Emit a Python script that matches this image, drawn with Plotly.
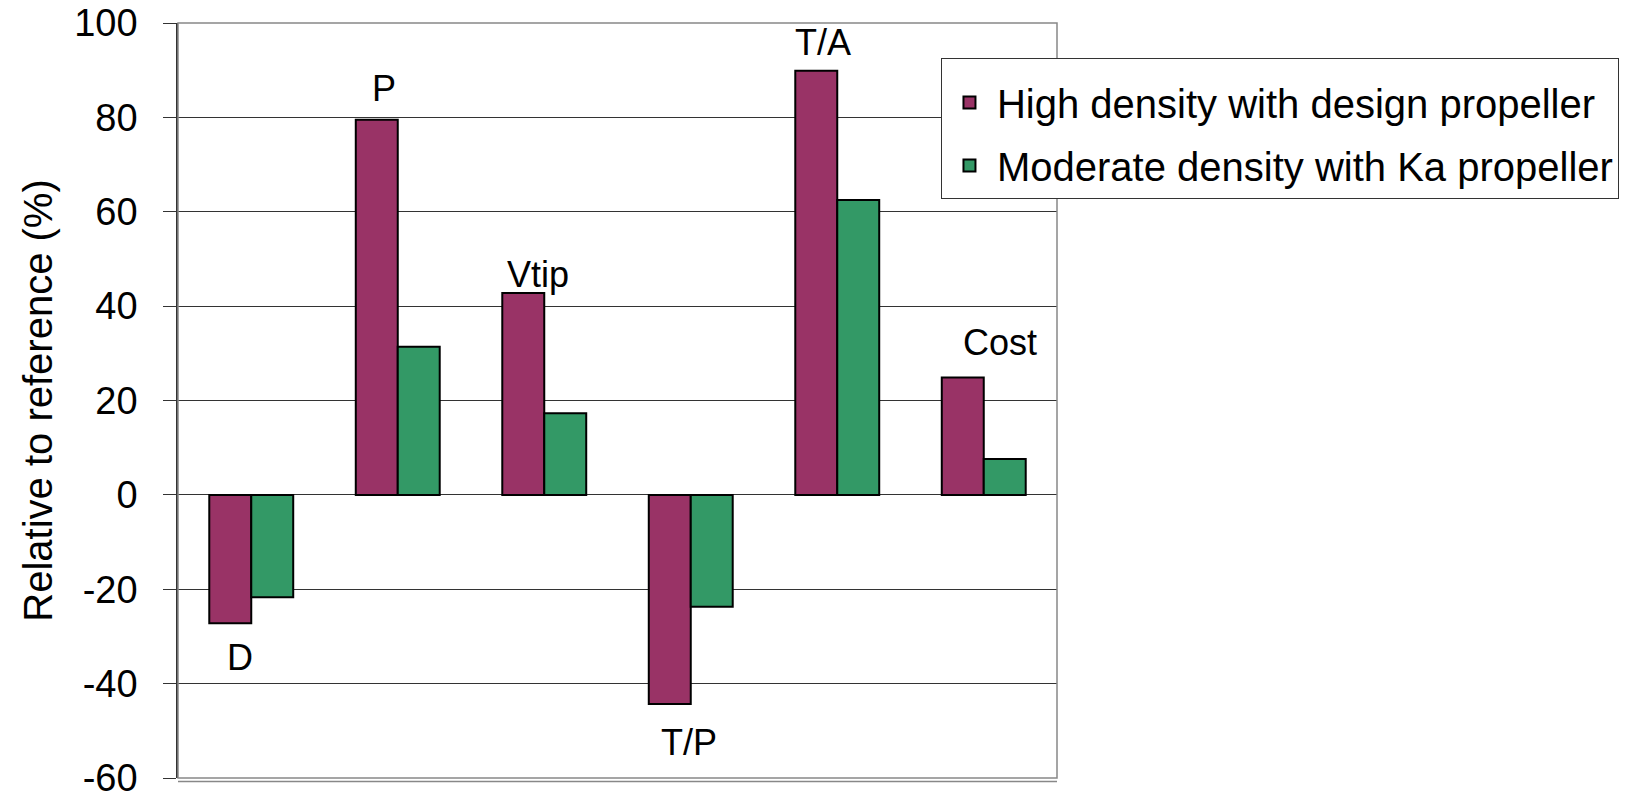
import plotly.graph_objects as go

# data
categories = ["D", "P", "Vtip", "T/P", "T/A", "Cost"]
high_density = [-27.2, 79.5, 42.8, -44.3, 89.9, 24.9]
moderate_density = [-21.7, 31.4, 17.3, -23.7, 62.5, 7.6]
series_names = ["High density with design propeller", "Moderate density with Ka propeller"]
y_ticks = [-60, -40, -20, 0, 20, 40, 60, 80, 100]

# label offsets (px) relative to the high-density bar end
label_dx = [-11, -14, -6, -2, -14, 16]
label_dy = [-34, 31, 18, -39, 28, 35]

fig = go.Figure()
fig.add_trace(go.Bar(x=categories, y=high_density, name=series_names[0],
                     marker=dict(color="#993366", line=dict(color="black", width=2)),
                     legendgroup="a"))
fig.add_trace(go.Bar(x=categories, y=moderate_density, name=series_names[1],
                     marker=dict(color="#339966", line=dict(color="black", width=2)),
                     legendgroup="b"))

for cat, val, dx, dy in zip(categories, high_density, label_dx, label_dy):
    fig.add_annotation(x=cat, y=val, text=cat, showarrow=False,
                       xshift=dx, yshift=dy, yanchor="middle",
                       font=dict(size=36, color="black"))

# plot frame (grey) and double bottom line
fig.add_shape(type="rect", xref="paper", yref="paper", x0=0, x1=1, y0=0, y1=1,
              line=dict(color="#888888", width=1.5), layer="above")
fig.add_shape(type="line", xref="paper", yref="paper", x0=0, x1=1, y0=-0.0045, y1=-0.0045,
              line=dict(color="#888888", width=1.5))

# the page body adds an 8px offset, margins compensate for it
fig.update_layout(
    width=1629, height=796,
    margin=dict(l=170, r=580, t=15, b=26),
    paper_bgcolor="white", plot_bgcolor="white",
    font=dict(family="Liberation Sans, Arial, sans-serif", color="black"),
    barmode="group", bargap=0.427, bargroupgap=0,
    showlegend=True,
    legend=dict(x=0.868, y=0.953, xanchor="left", yanchor="top",
                bgcolor="white", bordercolor="#333333", borderwidth=1,
                font=dict(size=40),
                title=dict(text=" ", font=dict(size=8)),
                traceorder="grouped", tracegroupgap=8, itemwidth=45),
)
fig.update_xaxes(showticklabels=False, showgrid=False, zeroline=False,
                 showline=False, ticks="", automargin=False)
fig.update_yaxes(range=[-60, 100], tickvals=y_ticks, ticktext=[str(v) for v in y_ticks],
                 showgrid=True, gridcolor="#333333", gridwidth=1,
                 zeroline=True, zerolinecolor="#333333", zerolinewidth=1,
                 showline=True, linecolor="#333333", linewidth=1.5,
                 ticks="outside", ticklen=13, tickcolor="#333333",
                 tickfont=dict(size=38), ticklabeloverflow="allow", ticklabelstandoff=18,
                 automargin=False,
                 title=dict(text="Relative to reference (%)", font=dict(size=40), standoff=9))

fig.write_html("out.html")
